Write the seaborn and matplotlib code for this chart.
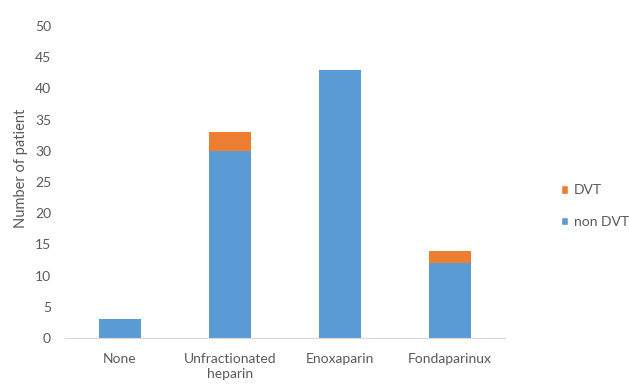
import matplotlib
matplotlib.use("Agg")
import matplotlib.pyplot as plt
import seaborn as sns
import numpy as np
from matplotlib.patches import Patch

categories = ["None", "Unfractionated\nheparin", "Enoxaparin", "Fondaparinux"]
non_dvt = [3, 30, 43, 12]
dvt = [0, 3, 0, 2]
yticks = list(range(0, 55, 5))

blue = "#5B9BD5"
orange = "#ED7D31"
grey = "#595959"

sns.set_theme(style="white")
plt.rcParams["font.family"] = ["Lato", "DejaVu Sans"]

fig = plt.figure(figsize=(6.29, 3.85), dpi=100)
ax = fig.add_axes([65/629, 1-338/385, 440/629, 312/385])

totals = [a + b for a, b in zip(non_dvt, dvt)]
sns.barplot(x=categories, y=totals, color=orange, width=0.39, ax=ax, saturation=1, linewidth=0)
sns.barplot(x=categories, y=non_dvt, color=blue, width=0.39, ax=ax, saturation=1, linewidth=0)

ax.set_ylim(0, 50)
ax.set_yticks(yticks)
ax.set_yticklabels([str(t) for t in yticks])
ax.set_xlim(-0.5, 3.5)
for s in ["top", "right", "left"]:
    ax.spines[s].set_visible(False)
ax.spines["bottom"].set_color("#D9D9D9")
ax.spines["bottom"].set_linewidth(0.8)
ax.tick_params(axis="both", length=0, colors=grey, labelsize=10)
ax.tick_params(axis="x", pad=11)
ax.tick_params(axis="y", pad=10)
for lbl in ax.get_xticklabels():
    lbl.set_linespacing(1.25)
ax.set_ylabel("Number of patient", color=grey, fontsize=10.5)
ax.yaxis.set_label_coords(-0.083, 0.545)
ax.set_xlabel("")

handles = [Patch(facecolor=orange, label="DVT"), Patch(facecolor=blue, label="non DVT")]
fig.legend(handles=handles, loc="upper left", bbox_to_anchor=(548/629, 1-172/385),
           frameon=False, fontsize=10, labelcolor=grey, handlelength=0.55, handleheight=0.55,
           handletextpad=0.4, labelspacing=1.4)

fig.savefig("out.png", dpi=100)
